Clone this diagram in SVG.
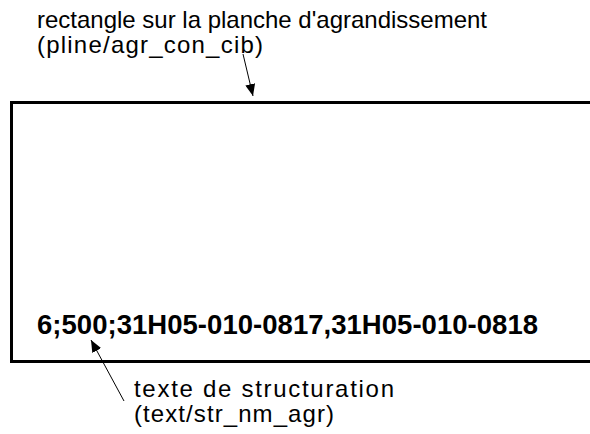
<svg xmlns="http://www.w3.org/2000/svg" width="590" height="434" viewBox="0 0 590 434">
<defs>
<style>
.lbl{font-family:"Liberation Sans",Arial,sans-serif;font-size:24px;fill:#000}
.code{font-family:"Liberation Sans",Arial,sans-serif;font-size:27.5px;font-weight:bold;fill:#000}
.conn{stroke:#000;stroke-width:1;fill:none}
</style>
<marker id="ah" viewBox="0 0 12 10" refX="12" refY="5" markerWidth="12" markerHeight="10" markerUnits="userSpaceOnUse" orient="auto">
<path d="M0,0 L12,5 L0,10 z" fill="#000"/>
</marker>
</defs>
<rect width="590" height="434" fill="#fff"/>
<g id="rect-node">
<rect x="11.5" y="102.5" width="600" height="259" fill="none" stroke="#000" stroke-width="3"/>
<text class="code" x="37" y="334" textLength="501" lengthAdjust="spacing">6;500;31H05-010-0817,31H05-010-0818</text>
</g>
<g id="label-top">
<text class="lbl" x="37" y="28" textLength="450" lengthAdjust="spacing">rectangle sur la planche d'agrandissement</text>
<text class="lbl" x="37" y="53" textLength="226" lengthAdjust="spacing">(pline/agr_con_cib)</text>
</g>
<g id="label-bottom">
<text class="lbl" x="134" y="397" textLength="260" lengthAdjust="spacing">texte de structuration</text>
<text class="lbl" x="134" y="422" textLength="200" lengthAdjust="spacing">(text/str_nm_agr)</text>
</g>
<g id="connectors">
<line class="conn" x1="243" y1="54" x2="253" y2="96" marker-end="url(#ah)"/>
<line class="conn" x1="124" y1="401" x2="91" y2="340" marker-end="url(#ah)"/>
</g>
</svg>
